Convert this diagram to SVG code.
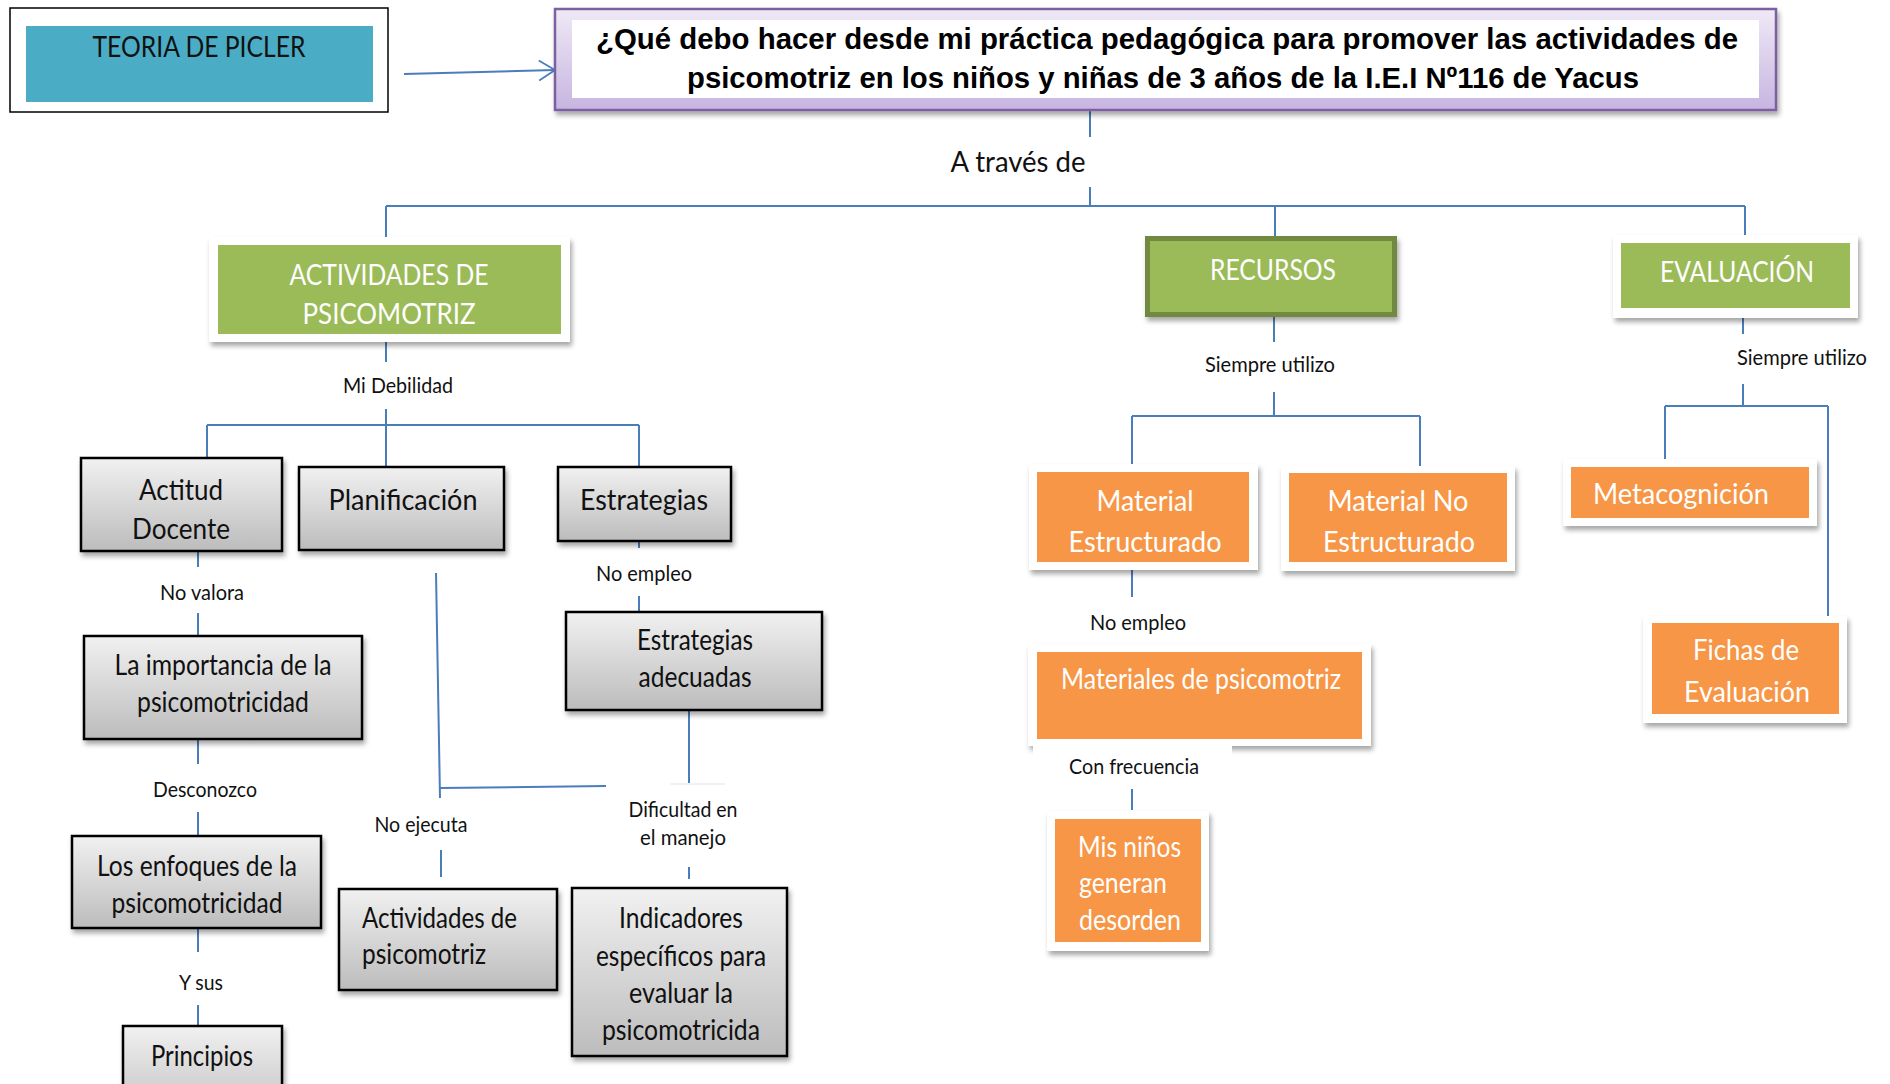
<svg xmlns="http://www.w3.org/2000/svg" width="1890" height="1084" viewBox="0 0 1890 1084">
<defs>
<linearGradient id="gray" x1="0" y1="0" x2="0" y2="1"><stop offset="0" stop-color="#f1f1f1"/><stop offset="1" stop-color="#bcbcbc"/></linearGradient>
<linearGradient id="purple" x1="0" y1="0" x2="0" y2="1"><stop offset="0" stop-color="#efe9f6"/><stop offset="1" stop-color="#c7b5e0"/></linearGradient>
<filter id="sh" x="-10%" y="-10%" width="125%" height="135%"><feDropShadow dx="2" dy="4" stdDeviation="2.5" flood-color="#000" flood-opacity="0.35"/></filter>
<marker id="arr" viewBox="0 0 20 24" refX="18" refY="12" markerWidth="20" markerHeight="24" markerUnits="userSpaceOnUse" orient="auto"><path d="M2,2 L18,12 L2,22" fill="none" stroke="#4a7ebb" stroke-width="1.8"/></marker>
<style>
.c{stroke:#4a7ebb;stroke-width:2;fill:none}
.gb{fill:url(#gray);stroke:#000;stroke-width:2.5;filter:url(#sh)}
.fr{fill:#fff;filter:url(#sh)}
.gr{fill:#9bbb59}
.or{fill:#f79646}
.t{font-family:Lato,'Open Sans','Liberation Sans',sans-serif;font-size:28px;fill:#111;text-anchor:middle}
.w{fill:#fff}
.l{font-family:Lato,'Open Sans','Liberation Sans',sans-serif;font-size:21px;fill:#111;text-anchor:middle}
.big{font-size:29px}
.s{text-anchor:start}
.h{font-family:'Liberation Sans',Arial,sans-serif;font-weight:bold;font-size:30px;fill:#000;text-anchor:middle}
</style>
</defs>
<rect width="1890" height="1084" fill="#fff"/>
<g id="connectors">
<line class="c" x1="404" y1="74" x2="555" y2="70" marker-end="url(#arr)"/>
<line class="c" x1="1090" y1="111" x2="1090" y2="137"/>
<line class="c" x1="1090" y1="187" x2="1090" y2="206"/>
<line class="c" x1="386" y1="206" x2="1745" y2="206" stroke-width="3"/>
<line class="c" x1="386" y1="206" x2="386" y2="238"/>
<line class="c" x1="1275" y1="206" x2="1275" y2="236"/>
<line class="c" x1="1745" y1="206" x2="1745" y2="236"/>
<line class="c" x1="386" y1="342" x2="386" y2="362"/>
<line class="c" x1="386" y1="409" x2="386" y2="425"/>
<line class="c" x1="207" y1="425" x2="639" y2="425"/>
<line class="c" x1="207" y1="425" x2="207" y2="458"/>
<line class="c" x1="386" y1="425" x2="386" y2="467"/>
<line class="c" x1="639" y1="425" x2="639" y2="467"/>
<line class="c" x1="198" y1="551" x2="198" y2="567"/>
<line class="c" x1="198" y1="613" x2="198" y2="636"/>
<line class="c" x1="198" y1="739" x2="198" y2="764"/>
<line class="c" x1="198" y1="812" x2="198" y2="836"/>
<line class="c" x1="198" y1="928" x2="198" y2="952"/>
<line class="c" x1="198" y1="1005" x2="198" y2="1026"/>
<polyline class="c" points="436,573 440,798"/>
<line class="c" x1="440" y1="788" x2="606" y2="786" stroke-width="2.5"/>
<line class="c" x1="441" y1="850" x2="441" y2="877"/>
<line class="c" x1="639" y1="522" x2="639" y2="548"/>
<line class="c" x1="639" y1="596" x2="639" y2="612"/>
<line class="c" x1="689" y1="710" x2="689" y2="784"/>
<line x1="670" y1="784" x2="725" y2="784" stroke="#eef3f9" stroke-width="2"/>
<line class="c" x1="689" y1="867" x2="689" y2="879"/>
<line class="c" x1="1274" y1="317" x2="1274" y2="342"/>
<line class="c" x1="1274" y1="392" x2="1274" y2="416"/>
<line class="c" x1="1132" y1="416" x2="1420" y2="416"/>
<line class="c" x1="1132" y1="416" x2="1132" y2="466"/>
<line class="c" x1="1420" y1="416" x2="1420" y2="466"/>
<line class="c" x1="1132" y1="570" x2="1132" y2="597"/>
<line class="c" x1="1132" y1="789" x2="1132" y2="810"/>
<line class="c" x1="1743" y1="318" x2="1743" y2="334"/>
<line class="c" x1="1743" y1="384" x2="1743" y2="406"/>
<line class="c" x1="1665" y1="406" x2="1828" y2="406"/>
<line class="c" x1="1665" y1="406" x2="1665" y2="459"/>
<line class="c" x1="1828" y1="406" x2="1828" y2="617"/>
</g>
<g id="labels">
<text class="l big" x="1018" y="172" textLength="135" lengthAdjust="spacingAndGlyphs">A través de</text>
<text class="l" x="398" y="393" textLength="110" lengthAdjust="spacingAndGlyphs">Mi Debilidad</text>
<text class="l" x="202" y="600" textLength="84" lengthAdjust="spacingAndGlyphs">No valora</text>
<text class="l" x="205" y="797" textLength="104" lengthAdjust="spacingAndGlyphs">Desconozco</text>
<text class="l" x="201" y="990" textLength="44" lengthAdjust="spacingAndGlyphs">Y sus</text>
<text class="l" x="421" y="832" textLength="93" lengthAdjust="spacingAndGlyphs">No ejecuta</text>
<text class="l" x="644" y="581" textLength="96" lengthAdjust="spacingAndGlyphs">No empleo</text>
<text class="l" x="683" y="817" textLength="109" lengthAdjust="spacingAndGlyphs">Dificultad en</text>
<text class="l" x="683" y="845" textLength="86" lengthAdjust="spacingAndGlyphs">el manejo</text>
<text class="l" x="1270" y="372" textLength="130" lengthAdjust="spacingAndGlyphs">Siempre utilizo</text>
<text class="l" x="1138" y="630" textLength="96" lengthAdjust="spacingAndGlyphs">No empleo</text>
<text class="l" x="1802" y="365" textLength="130" lengthAdjust="spacingAndGlyphs">Siempre utilizo</text>
</g>
<g id="teoria">
<rect x="10" y="8" width="378" height="104" fill="#fff" stroke="#000" stroke-width="1.5"/>
<rect x="26" y="26" width="347" height="76" fill="#4bacc6"/>
<text class="t" x="199" y="57" textLength="213" lengthAdjust="spacingAndGlyphs">TEORIA DE PICLER</text>
</g>
<g id="pregunta">
<rect x="555" y="9" width="1221" height="101" fill="url(#purple)" stroke="#7d60a0" stroke-width="2.5" filter="url(#sh)"/>
<rect x="572" y="20" width="1187" height="78" fill="#fff"/>
<text class="h" x="1167" y="49" textLength="1142" lengthAdjust="spacingAndGlyphs">¿Qué debo hacer desde mi práctica pedagógica para promover las actividades de</text>
<text class="h" x="1163" y="88" textLength="952" lengthAdjust="spacingAndGlyphs">psicomotriz en los niños y niñas de 3 años de la I.E.I Nº116 de Yacus</text>
</g>
<g id="actividades">
<rect class="fr" x="209" y="237" width="361" height="105"/>
<rect class="gr" x="218" y="245" width="343" height="89"/>
<text class="t w" x="389" y="285" textLength="199" lengthAdjust="spacingAndGlyphs">ACTIVIDADES DE</text>
<text class="t w" x="389" y="324" textLength="173" lengthAdjust="spacingAndGlyphs">PSICOMOTRIZ</text>
</g>
<g id="recursos">
<rect x="1145" y="236" width="252" height="81" fill="#71893f" filter="url(#sh)"/>
<rect x="1150" y="241" width="242" height="71" fill="#9bbb59"/>
<text class="t w" x="1273" y="280" textLength="126" lengthAdjust="spacingAndGlyphs">RECURSOS</text>
</g>
<g id="evaluacion">
<rect class="fr" x="1613" y="235" width="245" height="83"/>
<rect class="gr" x="1621" y="243" width="229" height="65"/>
<text class="t w" x="1737" y="282" textLength="154" lengthAdjust="spacingAndGlyphs">EVALUACIÓN</text>
</g>
<g id="actitud">
<rect class="gb" x="81" y="458" width="201" height="93"/>
<text class="t" x="181" y="500" textLength="84" lengthAdjust="spacingAndGlyphs">Actitud</text>
<text class="t" x="181" y="539" textLength="98" lengthAdjust="spacingAndGlyphs">Docente</text>
</g>
<g id="planificacion">
<rect class="gb" x="299" y="467" width="205" height="83"/>
<text class="t" x="403" y="510" textLength="149" lengthAdjust="spacingAndGlyphs">Planificación</text>
</g>
<g id="estrategias">
<rect class="gb" x="558" y="467" width="173" height="74"/>
<text class="t" x="644" y="510" textLength="128" lengthAdjust="spacingAndGlyphs">Estrategias</text>
</g>
<g id="importancia">
<rect class="gb" x="84" y="636" width="278" height="103"/>
<text class="t" x="223" y="675" textLength="217" lengthAdjust="spacingAndGlyphs">La importancia de la</text>
<text class="t" x="223" y="712" textLength="172" lengthAdjust="spacingAndGlyphs">psicomotricidad</text>
</g>
<g id="enfoques">
<rect class="gb" x="72" y="836" width="249" height="92"/>
<text class="t" x="197" y="876" textLength="200" lengthAdjust="spacingAndGlyphs">Los enfoques de la</text>
<text class="t" x="197" y="913" textLength="171" lengthAdjust="spacingAndGlyphs">psicomotricidad</text>
</g>
<g id="principios">
<rect class="gb" x="123" y="1026" width="159" height="100"/>
<text class="t" x="202" y="1066" textLength="102" lengthAdjust="spacingAndGlyphs">Principios</text>
</g>
<g id="actividades-psicomotriz">
<rect class="gb" x="339" y="889" width="218" height="101"/>
<text class="t s" x="362" y="928" textLength="155" lengthAdjust="spacingAndGlyphs">Actividades de</text>
<text class="t s" x="362" y="964" textLength="124" lengthAdjust="spacingAndGlyphs">psicomotriz</text>
</g>
<g id="estrategias-adecuadas">
<rect class="gb" x="566" y="612" width="256" height="98"/>
<text class="t" x="695" y="650" textLength="116" lengthAdjust="spacingAndGlyphs">Estrategias</text>
<text class="t" x="695" y="687" textLength="113" lengthAdjust="spacingAndGlyphs">adecuadas</text>
</g>
<g id="indicadores">
<rect class="gb" x="572" y="888" width="215" height="168"/>
<text class="t" x="681" y="928" textLength="124" lengthAdjust="spacingAndGlyphs">Indicadores</text>
<text class="t" x="681" y="966" textLength="170" lengthAdjust="spacingAndGlyphs">específicos para</text>
<text class="t" x="681" y="1003" textLength="104" lengthAdjust="spacingAndGlyphs">evaluar la</text>
<text class="t" x="681" y="1040" textLength="158" lengthAdjust="spacingAndGlyphs">psicomotricida</text>
</g>
<g id="material-estructurado">
<rect class="fr" x="1029" y="464" width="229" height="106"/>
<rect class="or" x="1037" y="472" width="212" height="90"/>
<text class="t w" x="1145" y="511" textLength="97" lengthAdjust="spacingAndGlyphs">Material</text>
<text class="t w" x="1145" y="552" textLength="153" lengthAdjust="spacingAndGlyphs">Estructurado</text>
</g>
<g id="material-no-estructurado">
<rect class="fr" x="1281" y="466" width="234" height="105"/>
<rect class="or" x="1289" y="473" width="218" height="89"/>
<text class="t w" x="1398" y="511" textLength="141" lengthAdjust="spacingAndGlyphs">Material No</text>
<text class="t w" x="1399" y="552" textLength="152" lengthAdjust="spacingAndGlyphs">Estructurado</text>
</g>
<g id="materiales-psicomotriz">
<rect class="fr" x="1028" y="644" width="343" height="102"/>
<rect class="or" x="1037" y="652" width="325" height="87"/>
<text class="t w" x="1201" y="689" textLength="280" lengthAdjust="spacingAndGlyphs">Materiales de psicomotriz</text>
</g>
<g id="con-frecuencia">
<rect x="1033" y="744" width="199" height="40" fill="#fff"/>
<text class="l" x="1134" y="774" textLength="130" lengthAdjust="spacingAndGlyphs">Con frecuencia</text>
</g>
<g id="mis-ninos">
<rect class="fr" x="1047" y="811" width="162" height="140"/>
<rect class="or" x="1055" y="819" width="146" height="123"/>
<text class="t w s" x="1078" y="857" textLength="103" lengthAdjust="spacingAndGlyphs">Mis  niños</text>
<text class="t w s" x="1079" y="893" textLength="88" lengthAdjust="spacingAndGlyphs">generan</text>
<text class="t w s" x="1079" y="930" textLength="102" lengthAdjust="spacingAndGlyphs">desorden</text>
</g>
<g id="metacognicion">
<rect class="fr" x="1563" y="459" width="254" height="67"/>
<rect class="or" x="1571" y="467" width="238" height="51"/>
<text class="t w s" x="1593" y="504" textLength="176" lengthAdjust="spacingAndGlyphs">Metacognición</text>
</g>
<g id="fichas">
<rect class="fr" x="1643" y="616" width="204" height="107"/>
<rect class="or" x="1652" y="623" width="187" height="91"/>
<text class="t w" x="1746" y="660" textLength="106" lengthAdjust="spacingAndGlyphs">Fichas de</text>
<text class="t w" x="1747" y="702" textLength="126" lengthAdjust="spacingAndGlyphs">Evaluación</text>
</g>
</svg>
